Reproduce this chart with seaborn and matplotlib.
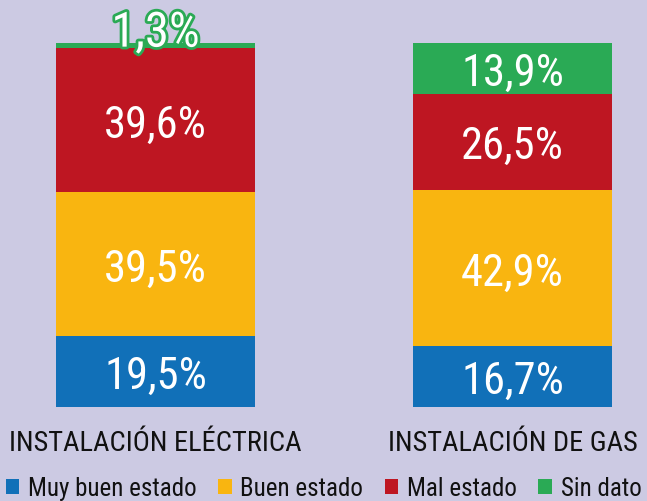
import numpy as np
import pandas as pd
import seaborn as sns
import matplotlib.pyplot as plt
from matplotlib.patches import Patch
import matplotlib.patheffects as pe

categories = ['INSTALACIÓN ELÉCTRICA', 'INSTALACIÓN DE GAS']
states = ['Muy buen estado', 'Buen estado', 'Mal estado', 'Sin dato']
muy_bueno = [19.5, 16.7]
bueno = [39.5, 42.9]
malo = [39.6, 26.5]
sin_dato = [1.3, 13.9]

colors = ['#1170b8', '#f9b510', '#be1622', '#2aaa55']
bg = '#cccae3'
fam = ['Roboto Condensed', 'Roboto', 'DejaVu Sans']

sns.set_theme(style='white')
plt.rcParams['font.family'] = fam

df = pd.DataFrame({'cat': categories, states[0]: muy_bueno, states[1]: bueno,
                   states[2]: malo, states[3]: sin_dato})
cum = df[states].cumsum(axis=1)

fig = plt.figure(figsize=(6.47, 5.02), dpi=100, facecolor=bg)
ax = fig.add_axes([0, 94 / 502, 1, 364 / 502])
ax.set_facecolor(bg)

# stacked bars: draw cumulative totals from the top down
for st, col in reversed(list(zip(states, colors))):
    sns.barplot(x=df['cat'], y=cum[st], color=col, width=0.557,
                saturation=1, linewidth=0, ax=ax)

ax.set_xlim(-155.5 / 357, (647 - 155.5) / 357)
ax.set_ylim(0, 100)
ax.axis('off')

for i in range(len(categories)):
    bottom = 0
    for st in states:
        v = df.loc[i, st]
        label = f'{v:.1f}%'.replace('.', ',')
        if v > 5:
            ax.text(i, bottom + v / 2, label, ha='center', va='center_baseline',
                    color='white', fontsize=32)
        else:
            # small slice: outlined label sitting on top of the bar
            ax.text(i, bottom + v - 0.9, label, ha='center', va='baseline',
                    color='white', fontsize=35,
                    path_effects=[pe.withStroke(linewidth=4, foreground=colors[3])])
        bottom += v
    ax.text(i, -9.8, categories[i], ha='center', va='center', fontsize=20.5,
            color='#111111', clip_on=False)

handles = [Patch(facecolor=c, edgecolor='none') for c in colors]
fig.legend(handles, states, loc='center', bbox_to_anchor=(0.5, 13 / 502), ncol=4,
           frameon=False, fontsize=18, handlelength=0.55, handleheight=0.55,
           handletextpad=0.35, columnspacing=0.85, borderaxespad=0,
           labelcolor='#111111')

fig.savefig('out.png', dpi=100, facecolor=bg)
